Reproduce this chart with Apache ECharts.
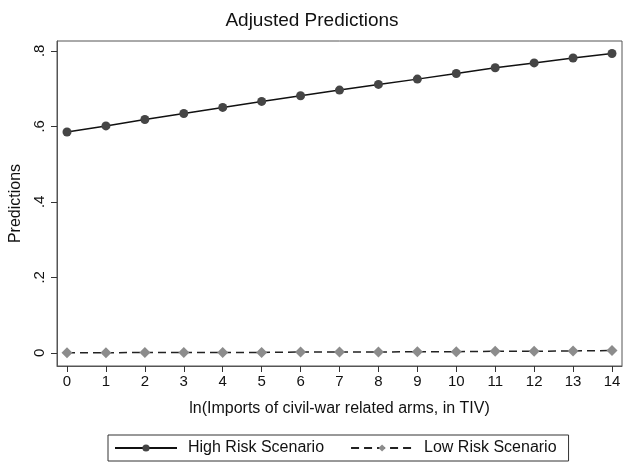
<!DOCTYPE html>
<html>
<head>
<meta charset="utf-8">
<script src="https://cdn.jsdelivr.net/npm/echarts@6/dist/echarts.min.js"></script>
<style>
  html, body { margin: 0; padding: 0; background: #fff; }
  #chart { width: 624px; height: 464px; }
</style>
</head>
<body>
<div id="chart"></div>
<script>
// ln(imports) values on the x axis
var xVals = [0, 1, 2, 3, 4, 5, 6, 7, 8, 9, 10, 11, 12, 13, 14];
var highRisk = [0.585, 0.601, 0.618, 0.634, 0.650, 0.666, 0.681, 0.696, 0.711, 0.725, 0.740, 0.755, 0.768, 0.781, 0.793];
var lowRisk = [0.000, 0.000, 0.001, 0.001, 0.001, 0.001, 0.002, 0.002, 0.002, 0.003, 0.003, 0.004, 0.004, 0.005, 0.006];
var yTicks = [0, 0.2, 0.4, 0.6, 0.8];

function pairs(ys) {
  return xVals.map(function (x, i) { return [x, ys[i]]; });
}

var font = "Liberation Sans, Arial, sans-serif";
var chart = echarts.init(document.getElementById("chart"));

chart.setOption({
  animation: false,
  title: {
    text: "Adjusted Predictions",
    left: "center",
    top: 6,
    textStyle: { fontFamily: font, fontSize: 19, fontWeight: "normal", color: "#111" }
  },
  grid: {
    left: 57, right: 2, top: 41, bottom: 98,
    show: true, borderColor: "#555", borderWidth: 1
  },
  xAxis: {
    type: "value",
    min: -0.257, max: 14.257,
    name: "ln(Imports of civil-war related arms, in TIV)",
    nameLocation: "middle",
    nameGap: 35,
    nameTextStyle: { fontFamily: font, fontSize: 16, color: "#111" },
    axisLine: { show: true, onZero: false, lineStyle: { color: "#555" } },
    axisTick: { show: true, length: 6, customValues: xVals, lineStyle: { color: "#333" } },
    axisLabel: { customValues: xVals, margin: 8, fontFamily: font, fontSize: 15, color: "#111" },
    splitLine: { show: false }
  },
  yAxis: {
    type: "value",
    min: -0.035, max: 0.826,
    name: "Predictions",
    nameLocation: "middle",
    nameGap: 33,
    nameTextStyle: { fontFamily: font, fontSize: 16, color: "#111" },
    axisLine: { show: true, onZero: false, lineStyle: { color: "#555" } },
    axisTick: { show: true, length: 6, customValues: yTicks, lineStyle: { color: "#333" } },
    axisLabel: {
      customValues: yTicks, rotate: 90, margin: 10,
      fontFamily: font, fontSize: 15, color: "#111",
      formatter: function (v) { return v === 0 ? "0" : String(v).replace(/^0/, ""); }
    },
    splitLine: { show: false }
  },
  legend: {
    left: 108, bottom: 3,
    padding: [5, 12, 5, 6],
    itemGap: 26,
    itemWidth: 62, itemHeight: 9,
    borderColor: "#333", borderWidth: 1,
    textStyle: { fontFamily: font, fontSize: 16, color: "#111", padding: [0, 0, 0, 6] },
    data: ["High Risk Scenario", "Low Risk Scenario"]
  },
  series: [
    {
      name: "High Risk Scenario",
      type: "line",
      data: pairs(highRisk),
      symbol: "circle", symbolSize: 9,
      itemStyle: { color: "#454545" },
      lineStyle: { color: "#111", width: 1.5 }
    },
    {
      name: "Low Risk Scenario",
      type: "line",
      data: pairs(lowRisk),
      symbol: "diamond", symbolSize: 11,
      itemStyle: { color: "#8c8c8c" },
      lineStyle: { color: "#222", width: 1.5, type: [8, 5] }
    }
  ]
});
</script>
</body>
</html>
